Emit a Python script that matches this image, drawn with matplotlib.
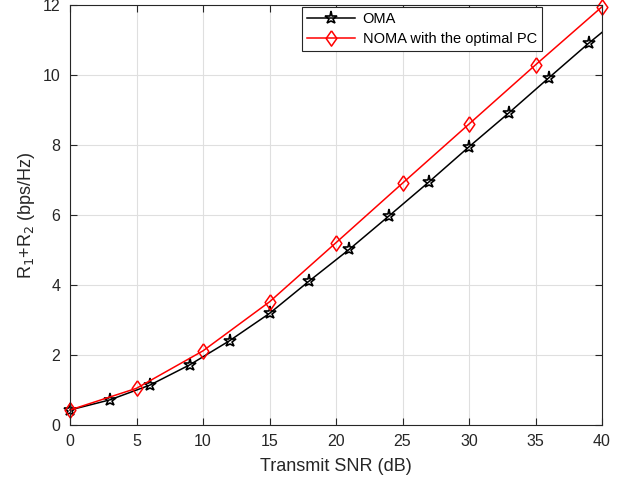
import numpy as np
import matplotlib
matplotlib.use("Agg")
import matplotlib.pyplot as plt

plt.rcParams['font.family'] = ['Liberation Sans', 'DejaVu Sans']

# OMA: markers every 3 dB, line runs to 40 dB
snr_oma = [0, 3, 6, 9, 12, 15, 18, 21, 24, 27, 30, 33, 36, 39, 40]
rate_oma = [0.42, 0.71, 1.13, 1.71, 2.40, 3.18, 4.11, 5.01, 5.97, 6.94,
            7.94, 8.91, 9.91, 10.90, 11.21]

# NOMA with the optimal power control: markers every 5 dB
snr_noma = [0, 5, 10, 15, 20, 25, 30, 35, 40]
rate_noma = [0.42, 1.04, 2.11, 3.51, 5.20, 6.90, 8.59, 10.28, 11.94]

x_ticks = [0, 5, 10, 15, 20, 25, 30, 35, 40]
y_ticks = [0, 2, 4, 6, 8, 10, 12]

# MATLAB-style diamond (a bit taller than wide)
diamond = [(0, 1), (0.7, 0), (0, -1), (-0.7, 0), (0, 1)]

fig = plt.figure(figsize=(6.28, 4.82), dpi=100)
ax = fig.add_axes([70 / 628, 1 - 424.7 / 482, 532 / 628, 420 / 482])

dark = '#262626'

ax.plot(snr_oma, rate_oma, color='k', lw=1.1, marker='*', markersize=9.5,
        markerfacecolor='none', markeredgecolor='k', markeredgewidth=1.2,
        markevery=list(range(len(snr_oma) - 1)), clip_on=False,
        label='OMA')
ax.plot(snr_noma, rate_noma, color='#ff0000', lw=1.1, marker=diamond,
        markersize=11, markerfacecolor='none', markeredgecolor='#ff0000',
        markeredgewidth=1.1, clip_on=False, label='NOMA with the optimal PC')

ax.set_xlim(0, 40)
ax.set_ylim(0, 12)
ax.set_xticks(x_ticks)
ax.set_yticks(y_ticks)
ax.grid(True, color='#dfdfdf', lw=0.8)
ax.set_axisbelow(True)

ax.tick_params(direction='in', top=True, right=True, length=5,
               color=dark, labelcolor=dark, labelsize=11.5, pad=7)
for s in ax.spines.values():
    s.set_color(dark)
    s.set_linewidth(0.8)

ax.set_xlabel('Transmit SNR (dB)', fontsize=13, color=dark, labelpad=6)
ax.set_ylabel('R$_1$+R$_2$ (bps/Hz)', fontsize=13, color=dark, labelpad=4)

leg = ax.legend(loc='upper left', bbox_to_anchor=(232 / 532, 0.995),
                fontsize=10.5, frameon=True, fancybox=False, handlelength=3.3,
                borderpad=0.35, labelspacing=0.4, handletextpad=0.5,
                borderaxespad=0.0)
leg.get_frame().set_edgecolor(dark)
leg.get_frame().set_linewidth(0.8)
leg.get_frame().set_alpha(1.0)

fig.savefig('out.png', dpi=100)
